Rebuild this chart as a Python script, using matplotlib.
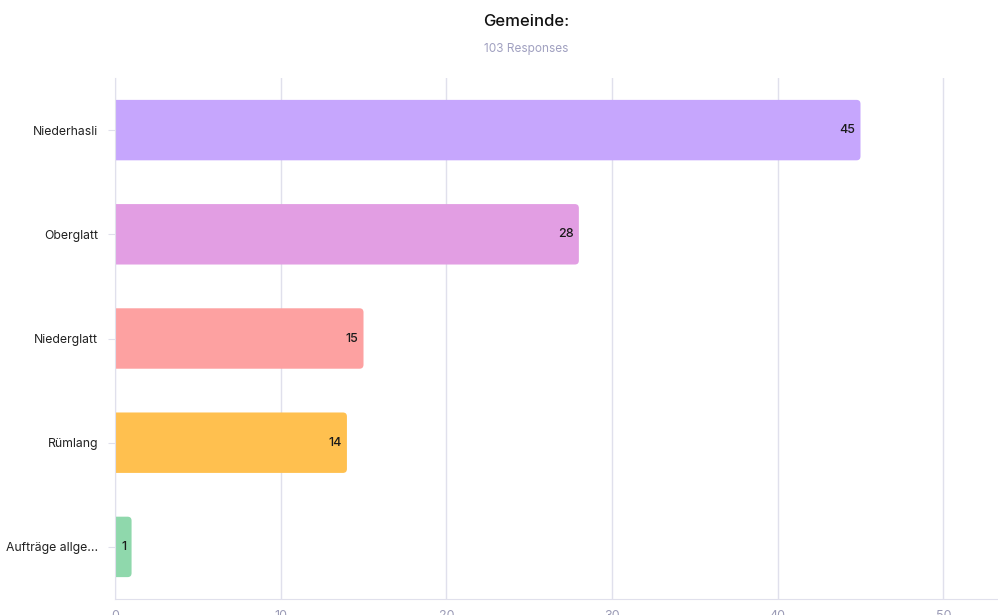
import matplotlib
matplotlib.use("Agg")
import matplotlib.pyplot as plt
from matplotlib.patches import FancyBboxPatch

categories = ["Niederhasli", "Oberglatt", "Niederglatt", "Rümlang", "Aufträge allge..."]
values = [45, 28, 15, 14, 1]
colors = ["#C6A6FD", "#E29EE3", "#FDA1A1", "#FFC04F", "#8FD8AC"]
xticks = [0, 10, 20, 30, 40, 50]
title = "Gemeinde:"
subtitle = "103 Responses"

plt.rcParams['font.family'] = ['Inter', 'DejaVu Sans']

fig = plt.figure(figsize=(9.98, 6.15), dpi=100)
ax = fig.add_axes([115/998, 16/615, (998-115)/998, (599-78)/615])

XMAX = 53.3
ax.set_xlim(0, XMAX)
ax.set_ylim(len(categories) - 0.5, -0.5)

ypos = list(range(len(categories)))
bars = ax.barh(ypos, values, height=0.58, color=colors, zorder=3)

# rounded right corners (left corners hidden by clipping at the axis)
px_per_x = 883 / XMAX
px_per_y = 521 / len(categories)
r = 4 / px_per_x
aspect = px_per_x / px_per_y
ext = 1.0
for b, c in zip(bars, colors):
    x0, y0, w, h = b.get_x(), b.get_y(), b.get_width(), b.get_height()
    b.set_visible(False)
    ax.add_patch(FancyBboxPatch((x0 - ext, y0), w + ext, h,
                                boxstyle=f"round,pad=0,rounding_size={r}",
                                mutation_aspect=aspect, facecolor=c, edgecolor='none',
                                zorder=3, clip_on=True))

for b, v in zip(bars, values):
    ax.text(v - 0.3, b.get_y() + b.get_height()/2, str(v), ha='right', va='center',
            fontsize=9, fontweight='medium', color='#1a1a1a', zorder=4)

ax.set_yticks(ypos)
ax.set_yticklabels(categories, fontsize=8.8, color='#222222')
ax.set_xticks(xticks)
ax.set_xticklabels([str(t) for t in xticks], fontsize=9, color='#9A9AB5')
ax.tick_params(axis='y', length=5, color='#E0E0EC', pad=7)
ax.tick_params(axis='x', length=0, pad=8)
ax.grid(axis='x', color='#E0E0EC', linewidth=1, zorder=0)
for s in ['top', 'right']:
    ax.spines[s].set_visible(False)
ax.spines['left'].set_color('#E0E0EC')
ax.spines['left'].set_zorder(5)
ax.spines['bottom'].set_color('#E0E0EC')

fig.text(526/998, 1 - 22/615, title, ha='center', va='center', fontsize=12,
         fontweight='medium', color='#111111')
fig.text(526/998, 1 - 49/615, subtitle, ha='center', va='center', fontsize=8.5, color='#A0A0C0')

fig.savefig("out.png", dpi=100)
